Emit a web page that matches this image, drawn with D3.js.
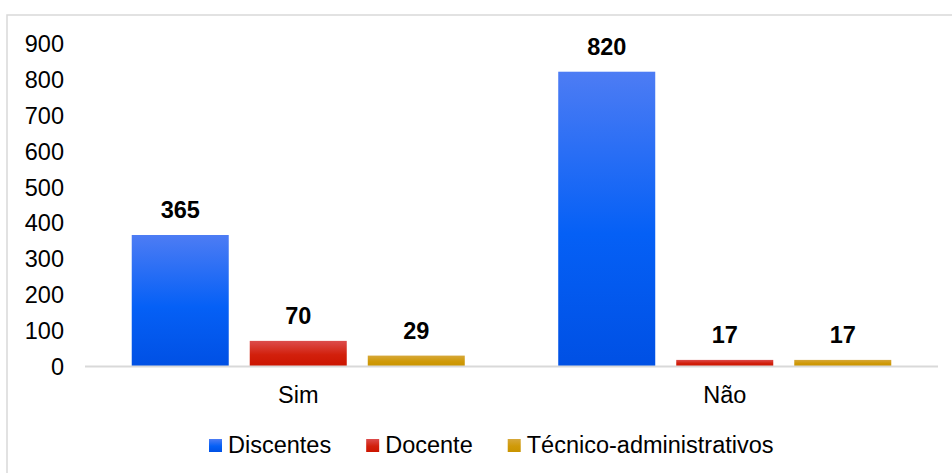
<!DOCTYPE html>
<html>
<head>
<meta charset="utf-8">
<script src="https://cdn.jsdelivr.net/npm/d3@7"></script>
<style>
  html, body { margin: 0; padding: 0; background: #fff; }
  svg { display: block; }
  text { font-family: "Liberation Sans", Arial, sans-serif; fill: #000; }
</style>
</head>
<body>
<svg id="chart" width="952" height="473"></svg>
<script>
const categories = ["Sim", "Não"];
const seriesNames = ["Discentes", "Docente", "Técnico-administrativos"];
const discentes = [365, 820];
const docente = [70, 17];
const tecnico = [29, 17];
const yTicks = [0, 100, 200, 300, 400, 500, 600, 700, 800, 900];

const seriesValues = [discentes, docente, tecnico];
const gradients = [
  ["#4d7cf4", "#0560f6", "#0050e4"],
  ["#dc4c4c", "#d2200c", "#cc1500"],
  ["#d6a83a", "#d09a08", "#c99400"]
];

const svg = d3.select("#chart");
const W = 952, H = 473;
const fontSize = 23.5;

// border
svg.append("rect").attr("x", 7).attr("y", 15).attr("width", W).attr("height", H)
  .attr("fill", "none").attr("stroke", "#d9d9d9").attr("stroke-width", 1.5);

const defs = svg.append("defs");
gradients.forEach((g, i) => {
  const lg = defs.append("linearGradient").attr("id", "grad" + i)
    .attr("x1", 0).attr("y1", 0).attr("x2", 0).attr("y2", 1);
  lg.append("stop").attr("offset", "0%").attr("stop-color", g[0]);
  lg.append("stop").attr("offset", "55%").attr("stop-color", g[1]);
  lg.append("stop").attr("offset", "100%").attr("stop-color", g[2]);
});

const x0 = d3.scaleBand().domain(categories).range([85, 938]).paddingInner(0).paddingOuter(0);
const x1 = d3.scaleBand().domain(seriesNames).range([0, x0.bandwidth()])
  .paddingInner(0.178).paddingOuter(0.396);
const y = d3.scaleLinear().domain([0, 900]).range([366, 43]);

// y axis labels
const yAxis = d3.axisLeft(y).tickValues(yTicks).tickSize(0).tickPadding(0);
const gy = svg.append("g").attr("transform", "translate(64,0)").call(yAxis);
gy.select(".domain").remove();
gy.selectAll("text").attr("font-size", fontSize).attr("font-family", "Liberation Sans, Arial, sans-serif").attr("fill", "#000").attr("dy", "0.36em");

// bars
const groups = svg.append("g").selectAll("g").data(categories).join("g")
  .attr("transform", d => `translate(${x0(d)},0)`);

seriesNames.forEach((s, si) => {
  groups.append("rect")
    .attr("x", x1(s))
    .attr("width", x1.bandwidth())
    .attr("y", (d, ci) => y(seriesValues[si][ci]))
    .attr("height", (d, ci) => y(0) - y(seriesValues[si][ci]))
    .attr("fill", `url(#grad${si})`);
  groups.append("text")
    .attr("x", x1(s) + x1.bandwidth() / 2)
    .attr("y", (d, ci) => y(seriesValues[si][ci]) - 17)
    .attr("text-anchor", "middle")
    .attr("font-size", fontSize)
    .attr("font-weight", "bold")
    .text((d, ci) => seriesValues[si][ci]);
});

// x axis line
svg.append("line").attr("x1", 85).attr("x2", 938).attr("y1", 366.5).attr("y2", 366.5)
  .attr("stroke", "#d9d9d9").attr("stroke-width", 2);

// x axis labels
const xAxis = d3.axisBottom(x0).tickSize(0).tickPadding(0);
const gx = svg.append("g").attr("transform", "translate(0,403)").call(xAxis);
gx.select(".domain").remove();
gx.selectAll("text").attr("font-size", fontSize).attr("font-family", "Liberation Sans, Arial, sans-serif").attr("fill", "#000").attr("dy", 0);

// legend
const legend = svg.append("g");
let lx = 209;
seriesNames.forEach((s, i) => {
  legend.append("rect").attr("x", lx).attr("y", 439).attr("width", 13).attr("height", 13)
    .attr("fill", `url(#grad${i})`);
  const t = legend.append("text").attr("x", lx + 19).attr("y", 453)
    .attr("font-size", fontSize).text(s);
  lx += 19 + t.node().getComputedTextLength() + 35;
});
</script>
</body>
</html>
